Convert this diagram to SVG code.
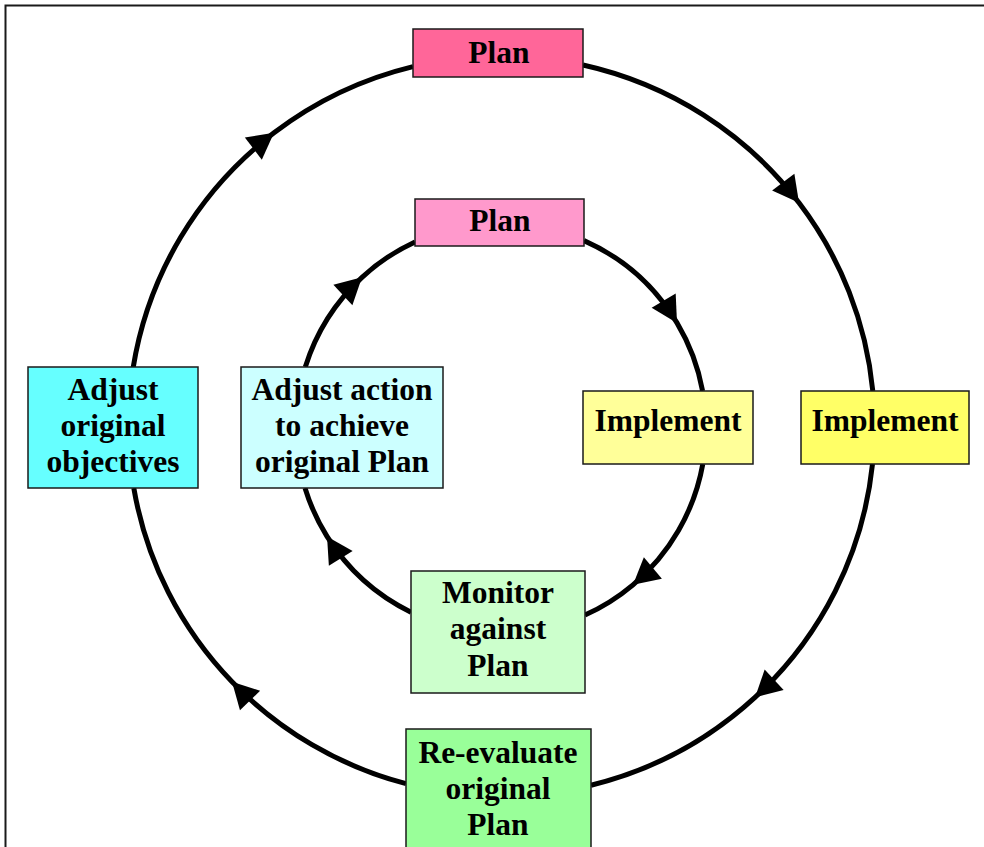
<svg xmlns="http://www.w3.org/2000/svg" width="984" height="847" viewBox="0 0 984 847">
<style>
.box{stroke:#1a1a1a;stroke-width:1.5}
.lbl{font-family:"Liberation Serif","Times New Roman",serif;font-weight:bold;font-size:31.5px;fill:#000;text-anchor:middle}
.conn{fill:none;stroke:#000;stroke-width:5;marker-mid:url(#arrow)}
</style>
<defs>
<marker id="arrow" markerUnits="userSpaceOnUse" viewBox="-27 -15 28 30" refX="0" refY="0" markerWidth="28" markerHeight="30" orient="auto">
<path d="M0,0 L-26,-14 L-26,14 z" fill="#000"/>
</marker>
</defs>
<rect x="5.5" y="5.5" width="1000" height="1000" fill="#fff" stroke="#1a1a1a" stroke-width="2"/>
<g id="connectors">
<path class="conn" d="M583,65 A373,370 0 0,1 799,202.8 A373,370 0 0,1 872.8,391"/>
<path class="conn" d="M872.5,464 A373,370 0 0,1 755,697.4 A373,370 0 0,1 591,785.2"/>
<path class="conn" d="M406,783.7 A373,370 0 0,1 232,681.8 A373,370 0 0,1 133.8,488"/>
<path class="conn" d="M133.1,368 A373,370 0 0,1 274,132.8 A373,370 0 0,1 413,66.6"/>
<path class="conn" d="M584,240.6 A205,205 0 0,1 677,322.9 A205,205 0 0,1 702.6,391"/>
<path class="conn" d="M702.8,464 A205,205 0 0,1 633,584.8 A205,205 0 0,1 585,615"/>
<path class="conn" d="M411,612.2 A205,205 0 0,1 327,536.4 A205,205 0 0,1 305,488"/>
<path class="conn" d="M305.3,367 A205,205 0 0,1 362,277.3 A205,205 0 0,1 415,241.9"/>
</g>
<g id="plan-outer">
<rect class="box" x="413" y="29" width="170" height="48" fill="#FF6699"/>
<text class="lbl" x="499" y="63">Plan</text>
</g>
<g id="plan-inner">
<rect class="box" x="415" y="199" width="169" height="47" fill="#FF99CC"/>
<text class="lbl" x="500" y="231">Plan</text>
</g>
<g id="implement-inner">
<rect class="box" x="583" y="391" width="170" height="73" fill="#FFFF99"/>
<text class="lbl" x="668" y="431">Implement</text>
</g>
<g id="implement-outer">
<rect class="box" x="801" y="391" width="168" height="73" fill="#FFFF66"/>
<text class="lbl" x="885" y="431">Implement</text>
</g>
<g id="adjust-objectives">
<rect class="box" x="28" y="367" width="170" height="121" fill="#66FFFF"/>
<text class="lbl" x="113" y="400">Adjust</text>
<text class="lbl" x="113" y="436">original</text>
<text class="lbl" x="113" y="472">objectives</text>
</g>
<g id="adjust-action">
<rect class="box" x="241" y="367" width="202" height="121" fill="#CCFFFF"/>
<text class="lbl" x="342" y="400">Adjust action</text>
<text class="lbl" x="342" y="436">to achieve</text>
<text class="lbl" x="342" y="472">original Plan</text>
</g>
<g id="monitor">
<rect class="box" x="411" y="571" width="174" height="122" fill="#CCFFCC"/>
<text class="lbl" x="498" y="603">Monitor</text>
<text class="lbl" x="498" y="639">against</text>
<text class="lbl" x="498" y="676">Plan</text>
</g>
<g id="re-evaluate">
<rect class="box" x="406" y="729" width="185" height="140" fill="#99FF99"/>
<text class="lbl" x="498" y="763">Re-evaluate</text>
<text class="lbl" x="498" y="799">original</text>
<text class="lbl" x="498" y="835">Plan</text>
</g>
</svg>
